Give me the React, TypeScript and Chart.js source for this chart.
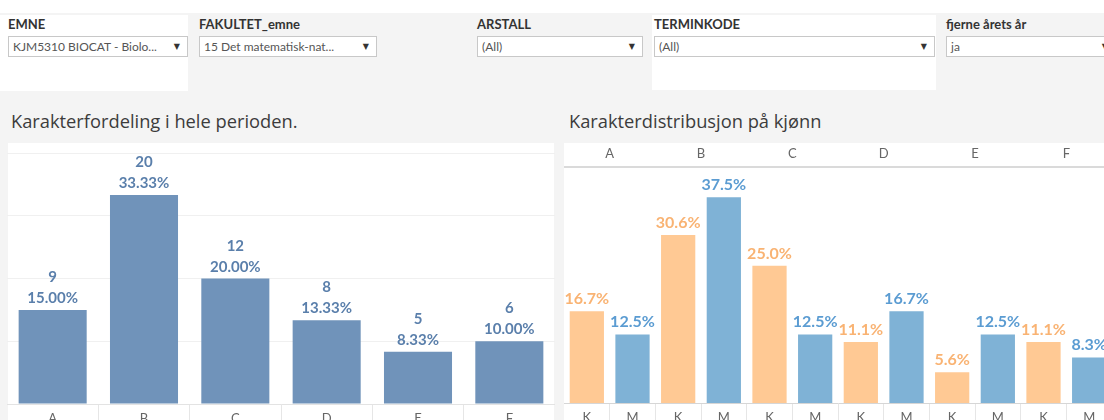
import React, { useEffect, useRef } from "react";
import { Chart, registerables } from "chart.js";

Chart.register(...registerables);

const FONT = "Lato, 'Open Sans', sans-serif";
const TITLE_FONT = "'Open Sans', Lato, sans-serif";

// ---- filter bar ----
const filterLabels = ["EMNE", "FAKULTET_emne", "ARSTALL", "TERMINKODE", "fjerne årets år"];
const filterValues = ["KJM5310 BIOCAT - Biolo...", "15 Det matematisk-nat...", "(All)", "(All)", "ja"];

// ---- titles ----
const leftTitle = "Karakterfordeling i hele perioden.";
const rightTitle = "Karakterdistribusjon på kjønn";

// ---- left chart data ----
const grades = ["A", "B", "C", "D", "E", "F"];
const gradeCounts = [9, 20, 12, 8, 5, 6];
const gradePercents = [15.0, 33.33, 20.0, 13.33, 8.33, 10.0];

// ---- right chart data ----
const genderLabels = ["K", "M"];
const kPercents = [16.7, 30.6, 25.0, 11.1, 5.6, 11.1];
const mPercents = [12.5, 37.5, 12.5, 16.7, 12.5, 8.3];

// layout of filter widgets (positions only)
const filterBoxes = [
  { x: 8, w: 180 },
  { x: 199, w: 178 },
  { x: 477, w: 166 },
  { x: 654, w: 281 },
  { x: 946, w: 170 },
];

const LEFT_BAR = "#7093ba";
const LEFT_TEXT = "#5a7fab";
const K_BAR = "#ffc994";
const M_BAR = "#7fb2d6";
const K_TEXT = "#f9b373";
const M_TEXT = "#5b9cd2";

const leftLabelPlugin = {
  id: "leftLabels",
  afterDatasetsDraw(chart: any) {
    const ctx = chart.ctx;
    const meta = chart.getDatasetMeta(0);
    ctx.save();
    ctx.fillStyle = LEFT_TEXT;
    ctx.font = `bold 15px ${FONT}`;
    ctx.textAlign = "center";
    ctx.textBaseline = "alphabetic";
    meta.data.forEach((bar: any, i: number) => {
      ctx.fillText(String(gradeCounts[i]), bar.x, bar.y - 28);
      ctx.fillText(gradePercents[i].toFixed(2) + "%", bar.x, bar.y - 7);
    });
    ctx.restore();
  },
};

const rightLabelPlugin = {
  id: "rightLabels",
  afterDatasetsDraw(chart: any) {
    const ctx = chart.ctx;
    ctx.save();
    ctx.font = `bold 16px ${FONT}`;
    ctx.textAlign = "center";
    ctx.textBaseline = "alphabetic";
    chart.data.datasets.forEach((ds: any, di: number) => {
      const meta = chart.getDatasetMeta(di);
      ctx.fillStyle = di === 0 ? K_TEXT : M_TEXT;
      meta.data.forEach((bar: any, i: number) => {
        ctx.fillText(ds.data[i].toFixed(1) + "%", bar.x, bar.y - 7);
      });
    });
    ctx.restore();
  },
};

function Filter({ label, value, x, w }: { label: string; value: string; x: number; w: number }) {
  return (
    <>
      <div
        style={{
          position: "absolute",
          left: x,
          top: 16,
          fontSize: 13,
          fontWeight: 700,
          color: "#333",
          whiteSpace: "nowrap",
        }}
      >
        {label}
      </div>
      <div
        style={{
          position: "absolute",
          left: x,
          top: 36,
          width: w,
          height: 21,
          boxSizing: "border-box",
          border: "1px solid #c8c8c8",
          background: "#fff",
          fontSize: 12,
          color: "#555",
          lineHeight: "19px",
          paddingLeft: 4,
          whiteSpace: "nowrap",
          overflow: "hidden",
        }}
      >
        {value}
        <span style={{ position: "absolute", right: 7, top: 0, fontSize: 8, color: "#333", fontFamily: "DejaVu Sans" }}>▼</span>
      </div>
    </>
  );
}

export default function App() {
  const leftRef = useRef<HTMLCanvasElement | null>(null);
  const rightRef = useRef<HTMLCanvasElement | null>(null);

  useEffect(() => {
    const left = new Chart(leftRef.current as HTMLCanvasElement, {
      type: "bar",
      data: {
        labels: grades,
        datasets: [
          {
            data: gradePercents,
            backgroundColor: LEFT_BAR,
            barPercentage: 0.745,
            categoryPercentage: 1,
          },
        ],
      },
      options: {
        animation: false,
        responsive: false,
        maintainAspectRatio: false,
        layout: { padding: 0 },
        plugins: { legend: { display: false }, tooltip: { enabled: false } },
        scales: {
          x: {
            offset: true,
            grid: { display: true, offset: true, drawOnChartArea: false, drawTicks: true, tickLength: 20, color: "#e6e6e6" },
            border: { display: true, color: "#e3e3e3" },
            ticks: { color: "#666", font: { family: FONT, size: 13 }, padding: -13 },
            afterFit: (s: any) => {
              s.height = 16;
            },
          },
          y: {
            min: 0,
            max: 41.6,
            ticks: { display: false, stepSize: 10, includeBounds: false },
            grid: { color: "#f0f0f0", drawTicks: false },
            border: { display: false },
          },
        },
      } as any,
      plugins: [leftLabelPlugin],
    });

    const right = new Chart(rightRef.current as HTMLCanvasElement, {
      type: "bar",
      data: {
        labels: grades,
        datasets: [
          {
            label: genderLabels[0],
            data: kPercents,
            backgroundColor: K_BAR,
            barPercentage: 0.75,
            categoryPercentage: 1,
            xAxisID: "x",
            yAxisID: "y",
          },
          {
            label: genderLabels[1],
            data: mPercents,
            backgroundColor: M_BAR,
            barPercentage: 0.75,
            categoryPercentage: 1,
            xAxisID: "x",
            yAxisID: "y",
          },
        ],
      },
      options: {
        animation: false,
        responsive: false,
        maintainAspectRatio: false,
        layout: { padding: { top: 3 } },
        plugins: { legend: { display: false }, tooltip: { enabled: false } },
        scales: {
          x: {
            type: "category",
            position: "top",
            offset: true,
            grid: { display: false, drawTicks: false },
            border: { display: true, color: "#dadada", width: 2 },
            ticks: { color: "#666", font: { family: FONT, size: 13 }, padding: 5 },
            afterFit: (s: any) => {
              s.height = 21;
            },
          },
          x2: {
            type: "category",
            position: "bottom",
            labels: grades.flatMap(() => genderLabels),
            offset: true,
            grid: { display: true, offset: true, drawOnChartArea: false, drawTicks: true, tickLength: 20, color: "#e6e6e6" },
            border: { display: true, color: "#d6d6d6" },
            ticks: { color: "#666", font: { family: FONT, size: 13 }, padding: -13 },
            afterFit: (s: any) => {
              s.height = 17;
            },
          },
          y: {
            display: false,
            min: 0,
            max: 43,
          },
        },
      } as any,
      plugins: [rightLabelPlugin],
    });

    return () => {
      left.destroy();
      right.destroy();
    };
  }, []);

  return (
    <div
      style={{
        position: "absolute",
        left: 0,
        top: 0,
        width: 1104,
        height: 420,
        overflow: "hidden",
        background: "#fff",
        fontFamily: FONT,
      }}
    >
      <div style={{ position: "absolute", left: 0, top: 13, width: 1104, height: 407, background: "#f4f4f4" }} />
      <div style={{ position: "absolute", left: 0, top: 15, width: 188, height: 76, background: "#fff" }} />
      <div style={{ position: "absolute", left: 652, top: 15, width: 284, height: 75, background: "#fff" }} />
      {filterLabels.map((l, i) => (
        <Filter key={l} label={l} value={filterValues[i]} x={filterBoxes[i].x} w={filterBoxes[i].w} />
      ))}
      <div style={{ position: "absolute", left: 11, top: 108, fontSize: 18.3, color: "#3c3c3c", whiteSpace: "nowrap", fontFamily: TITLE_FONT }}>{leftTitle}</div>
      <div style={{ position: "absolute", left: 569, top: 108, fontSize: 18.3, color: "#3c3c3c", whiteSpace: "nowrap", fontFamily: TITLE_FONT }}>{rightTitle}</div>
      <div style={{ position: "absolute", left: 8, top: 143, width: 546, height: 277, background: "#fff" }} />
      <div style={{ position: "absolute", left: 564, top: 143, width: 540, height: 277, background: "#fff" }} />
      <canvas
        ref={leftRef}
        width={548}
        height={277}
        style={{ position: "absolute", left: 7, top: 143, display: "block" }}
      />
      <canvas
        ref={rightRef}
        width={548}
        height={277}
        style={{ position: "absolute", left: 564, top: 143, display: "block" }}
      />
    </div>
  );
}
